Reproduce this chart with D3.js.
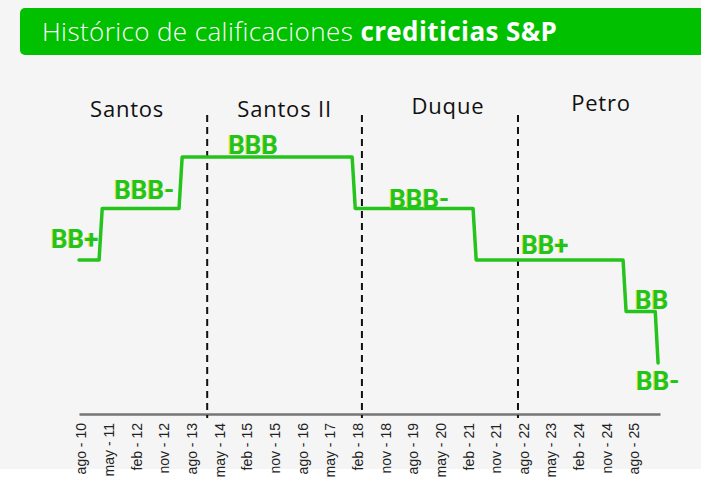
<!DOCTYPE html>
<html>
<head>
<meta charset="utf-8">
<script src="https://cdn.jsdelivr.net/npm/d3@7"></script>
<style>
  body { margin: 0; background: #fff; }
  svg { display: block; }
</style>
</head>
<body>
<div id="chart"></div>
<script>
// Histórico de calificaciones crediticias S&P (Colombia)

var etiquetasEje = ["ago - 10", "may - 11", "feb - 12", "nov - 12", "ago - 13", "may - 14", "feb - 15",
  "nov - 15", "ago - 16", "may - 17", "feb - 18", "nov - 18", "ago - 19", "may - 20", "feb - 21",
  "nov - 21", "ago - 22", "may - 23", "feb - 24", "nov - 24", "ago - 25"];

// fecha en que empieza cada calificacion (la primera es el inicio de la serie)
var fechasCambio = ["2010-07-12", "2011-01-27", "2013-03-29", "2017-12-08", "2021-03-20", "2025-04-14", "2026-02-27"];
var calificaciones = ["BB+", "BBB-", "BBB", "BBB-", "BB+", "BB", "BB-"];
var escala = ["BB-", "BB", "BB+", "BBB-", "BBB"];

var gobiernos = ["Santos", "Santos II", "Duque", "Petro"];
var cambiosGobierno = ["2014-01-02", "2018-03-15", "2022-06-08"];
var finSerie = "2026-04-15";

var svgWidth = 701;
var svgHeight = 483;

var meses = ["ene", "feb", "mar", "abr", "may", "jun", "jul", "ago", "sep", "oct", "nov", "dic"];
var parseFecha = d3.timeParse("%Y-%m-%d");

function fechaDeEtiqueta(s) {
  var partes = s.split(" - ");
  return new Date(2000 + (+partes[1]), meses.indexOf(partes[0]), 1);
}

var svg = d3.select("#chart")
  .append("svg")
  .attr("width", svgWidth)
  .attr("height", svgHeight);

svg.append("rect")
  .attr("width", svgWidth)
  .attr("height", 469)
  .attr("fill", "#f5f5f5");

// barra del titulo
svg.append("rect")
  .attr("x", 20)
  .attr("y", 8)
  .attr("width", 720)
  .attr("height", 47)
  .attr("rx", 5)
  .attr("fill", "#00c000");

var titulo = svg.append("text")
  .attr("x", 42)
  .attr("y", 41)
  .attr("fill", "#fff")
  .attr("font-family", "'Open Sans', sans-serif")
  .attr("font-size", "26px")
  .attr("letter-spacing", "0.4px");
titulo.append("tspan").attr("font-weight", 300).text("Histórico de calificaciones ");
titulo.append("tspan").attr("font-weight", 700).text("crediticias S&P");

var inicio = parseFecha(fechasCambio[0]);
var fin = parseFecha(finSerie);

var xScale = d3.scaleTime()
  .domain([inicio, fin])
  .range([79, 660]);

var yScale = d3.scalePoint()
  .domain(escala)
  .range([363, 157]);

var ejeY = 414;

// eje x
var ejeX = d3.axisBottom(xScale)
  .tickValues(etiquetasEje.map(fechaDeEtiqueta))
  .tickSize(0)
  .tickFormat(function(d, i) { return etiquetasEje[i]; });

var gEje = svg.append("g")
  .attr("transform", `translate(0, ${ejeY})`)
  .call(ejeX);

gEje.select(".domain")
  .attr("stroke", "#757575")
  .attr("stroke-width", 2.5);

gEje.selectAll("text")
  .attr("transform", "rotate(-90)")
  .attr("x", -9)
  .attr("y", 0)
  .attr("dy", "0.35em")
  .style("text-anchor", "end")
  .attr("font-family", "'Liberation Sans', Arial, sans-serif")
  .attr("font-size", "14px")
  .attr("fill", "#222");

// separadores de gobierno
svg.append("g")
  .selectAll("line")
  .data(cambiosGobierno)
  .enter()
  .append("line")
  .attr("x1", function(d) { return xScale(parseFecha(d)); })
  .attr("x2", function(d) { return xScale(parseFecha(d)); })
  .attr("y1", 115)
  .attr("y2", ejeY + 4)
  .attr("stroke", "#111")
  .attr("stroke-width", 2)
  .attr("stroke-dasharray", "7,5");

var limites = [inicio].concat(cambiosGobierno.map(parseFecha)).concat([fin]);
var ajusteGob = [[-16, 117], [0, 117], [8, 114], [12, 111]];

svg.append("g")
  .selectAll("text")
  .data(gobiernos)
  .enter()
  .append("text")
  .attr("x", function(d, i) { return (xScale(limites[i]) + xScale(limites[i + 1])) / 2 + ajusteGob[i][0]; })
  .attr("y", function(d, i) { return ajusteGob[i][1]; })
  .style("text-anchor", "middle")
  .attr("font-family", "'Open Sans', sans-serif")
  .attr("font-size", "22px")
  .attr("letter-spacing", "0.8px")
  .attr("fill", "#111")
  .text(function(d) { return d; });

// linea escalonada
var puntos = [];
fechasCambio.forEach(function(f, i) {
  var fecha = parseFecha(f);
  if (i == 0) {
    puntos.push({fecha: fecha, cal: calificaciones[0]});
  } else {
    puntos.push({fecha: fecha, cal: calificaciones[i - 1]});
    puntos.push({fecha: d3.timeMonth.offset(fecha, 1), cal: calificaciones[i]});
  }
});

var linea = d3.line()
  .x(function(d) { return xScale(d.fecha); })
  .y(function(d) { return yScale(d.cal); });

svg.append("path")
  .datum(puntos)
  .attr("d", linea)
  .attr("fill", "none")
  .attr("stroke", "#25c41c")
  .attr("stroke-width", 3.5)
  .attr("stroke-linejoin", "round")
  .attr("stroke-linecap", "round");

// etiquetas de calificacion
var anclas = calificaciones.map(function(c, i) {
  var f = parseFecha(fechasCambio[i]);
  return {cal: c, fecha: i == 0 ? f : d3.timeMonth.offset(f, 1)};
});
var ajusteCal = [[-28, -12], [12, -10], [46, -3], [34, -1], [45, -6], [9, -3], [-22, 27]];

var gCal = svg.append("g")
  .attr("font-family", "Roboto, sans-serif")
  .attr("font-weight", 700)
  .attr("font-size", "26px");

gCal.selectAll("text.sombra")
  .data(anclas)
  .enter()
  .append("text")
  .attr("class", "sombra")
  .attr("x", function(d, i) { return xScale(d.fecha) + ajusteCal[i][0] - 0.8; })
  .attr("y", function(d, i) { return yScale(d.cal) + ajusteCal[i][1]; })
  .attr("fill", "#e6e04a")
  .text(function(d) { return d.cal; });

gCal.selectAll("text.cal")
  .data(anclas)
  .enter()
  .append("text")
  .attr("class", "cal")
  .attr("x", function(d, i) { return xScale(d.fecha) + ajusteCal[i][0]; })
  .attr("y", function(d, i) { return yScale(d.cal) + ajusteCal[i][1]; })
  .attr("fill", "#22c41a")
  .text(function(d) { return d.cal; });
</script>
</body>
</html>
